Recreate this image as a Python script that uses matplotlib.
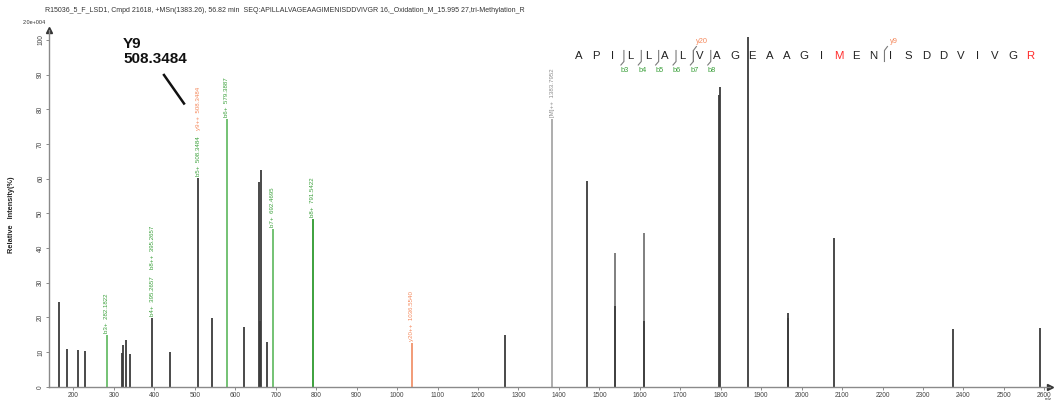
import matplotlib
matplotlib.use('Agg')
import matplotlib.pyplot as plt
from matplotlib.lines import Line2D

W, H = 1056, 400

title = ("R15036_5_F_LSD1, Cmpd 21618, +MSn(1383.26), 56.82 min  "
         "SEQ:APILLALVAGEAAGIMENISDDVIVGR 16,_Oxidation_M_15.995 27,tri-Methylation_R")

# ---- spectrum peaks ----
mz = [165, 183, 211, 228, 282.1822, 320.7, 323.2, 330.6, 340.5, 395.2657,
      439.4, 508.3484, 541.7, 579.3887, 620.8, 657.9, 661.0, 663.6, 677.7,
      692.4695, 791.5422, 1036.5540, 1266.8, 1383.7952, 1468.8, 1537.5,
      1539.0, 1610.0, 1611.5, 1796.0, 1797.5, 1868.2, 1966.0, 1967.5,
      2079.0, 2375.0, 2588.5]
intensity = [24.5, 10.8, 10.6, 10.4, 14.9, 9.8, 12.0, 13.5, 9.4, 19.9,
             9.9, 60.1, 19.9, 77.1, 17.3, 59.0, 19.0, 62.5, 12.8,
             45.4, 48.3, 12.7, 14.9, 77.1, 59.4, 38.5,
             23.4, 44.4, 19.0, 84.0, 86.5, 101.0, 21.3, 19.9,
             42.8, 16.5, 16.8]
ion = ['', '', '', '', 'b', '', '', '', '', '',
       '', '', '', 'b', '', '', '', '', '',
       'b', 'b_dark', 'y', '', 'M', '', 'light',
       '', 'light', '', '', '', '', '', '',
       '', '', '']

# ---- peak annotations ----
label_mz = [282.1822, 395.2657, 395.2657, 508.3484, 508.3484, 579.3887,
            692.4695, 791.5422, 1036.5540, 1383.7952]
label_text = ['b3+  282.1822', 'b4+  395.2657', 'b8++  395.2657',
              'b5+  508.3484', 'y9++  508.3484', 'b6+  579.3887',
              'b7+  692.4695', 'b8+  791.5422', 'y20++  1036.5540',
              '[M]++  1383.7952']
label_ion = ['b', 'b', 'b', 'b', 'y', 'b', 'b', 'b', 'y', 'M']
label_level = [0, 0, 1, 0, 1, 0, 0, 0, 0, 0]

# ---- sequence ----
sequence = "APILLALVAGEAAGIMENISDDVIVGR"
modified_positions = [16, 27]          # 1-based residues in red
b_ions = [3, 4, 5, 6, 7, 8]
y_ions = [20, 9]

callout_text = "Y9\n508.3484"

colors = {'': '#3c3c3c', 'b': '#5cb85c', 'b_dark': '#2e9a2e', 'y': '#f08a60',
          'M': '#a0a0a0', 'light': '#6a6a6a'}
label_colors = {'b': '#3aa03a', 'y': '#f5875a', 'M': '#8c8c8c'}

NARROW = ['Liberation Sans Narrow', 'Liberation Sans', 'DejaVu Sans']
plt.rcParams['font.family'] = ['Liberation Sans', 'DejaVu Sans']

fig = plt.figure(figsize=(W / 100, H / 100), dpi=100)
ax_left, ax_right, ax_bottom, ax_top = 49, 1050, 386.7, 29.6
ax = fig.add_axes([ax_left / W, 1 - ax_bottom / H,
                   (ax_right - ax_left) / W, (ax_bottom - ax_top) / H])

for m, v, k in zip(mz, intensity, ion):
    ax.vlines(m, 0, v, color=colors[k], lw=1.3 if k in ('', 'b_dark') else 1.2)

ax.set_xlim(139.5, 2614)
ax.set_ylim(0, 103)


def base_of(m):
    return intensity[min(range(len(mz)), key=lambda i: abs(mz[i] - m))]


LFS = 4.4
placed = {}
for m, t, k, lev in zip(label_mz, label_text, label_ion, label_level):
    if lev == 0:
        placed[m] = ax.annotate(t, (m, base_of(m)), xytext=(0, 1.5),
                                textcoords='offset points', rotation=90,
                                ha='center', va='bottom', fontsize=LFS,
                                color=label_colors[k], family=NARROW)
fig.canvas.draw()
rend = fig.canvas.get_renderer()
for m, t, k, lev in zip(label_mz, label_text, label_ion, label_level):
    if lev == 1:
        h_px = placed[m].get_window_extent(rend).height
        off = 1.5 + h_px * 72 / fig.dpi + 5
        ax.annotate(t, (m, base_of(m)), xytext=(0, off),
                    textcoords='offset points', rotation=90,
                    ha='center', va='bottom', fontsize=LFS,
                    color=label_colors[k], family=NARROW)

for s in ('top', 'right'):
    ax.spines[s].set_visible(False)
for s in ('left', 'bottom'):
    ax.spines[s].set_color('#8a8a8a')
    ax.spines[s].set_linewidth(1.0)

ax.set_xticks(range(200, 2601, 100))
ax.set_yticks(range(0, 101, 10))
ax.tick_params(axis='both', length=2.5, width=0.7, color='#8a8a8a',
               labelsize=4.8, labelcolor='#444444', pad=1.0)
for lab in ax.get_yticklabels():
    lab.set_rotation(90)
    lab.set_va('center')
    lab.set_family(NARROW)
for lab in ax.get_xticklabels():
    lab.set_family(NARROW)

ax.plot(1, 0, marker='>', color='#333333', ms=4, transform=ax.transAxes, clip_on=False)
ax.plot(0, 1, marker='^', color='#333333', ms=4, transform=ax.transAxes, clip_on=False)


def fx(px):
    return px / W


def fy(py):
    return 1 - py / H


fig.text(fx(45), fy(10), title, fontsize=5.05, color='#333333', va='center',
         ha='left', family=NARROW)
fig.text(fx(12), fy(215), "Relative   Intensity(%)", rotation=90, fontsize=5.3,
         fontweight='bold', ha='center', va='center', color='#222222')
fig.text(fx(34), fy(22), "2.0e+004", fontsize=4.0, ha='center', va='center',
         color='#333333', family=NARROW)
fig.text(fx(1048), fy(399.2), "m/z", fontsize=3.2, ha='center', va='center',
         color='#333333', family=NARROW)

# callout
fig.text(fx(123), fy(37), callout_text, fontsize=11, fontweight='bold',
         ha='left', va='top', linespacing=1.05, color='#111111')
fig.add_artist(Line2D([fx(164), fx(184)], [fy(75), fy(103.5)],
                      transform=fig.transFigure, color='#111111', lw=1.8))

# sequence
x0, step, ys = 578.3, 17.37, 55.7
for i, aa in enumerate(sequence):
    c = '#ff2a2a' if (i + 1) in modified_positions else '#222222'
    fig.text(fx(x0 + i * step), fy(ys), aa, fontsize=8.2, ha='center',
             va='center', color=c)
for n in b_ions:
    bx = x0 + n * step - 6.5
    fig.add_artist(Line2D([fx(bx), fx(bx), fx(bx - 3)],
                          [fy(50.5), fy(61.5), fy(65)],
                          transform=fig.transFigure, color='#7a7a7a', lw=0.8))
    fig.text(fx(bx + 1), fy(70.7), f"b{n}", fontsize=5.3, ha='center',
             va='center', color='#3aa03a')
for n in y_ions:
    k = len(sequence) - n
    bx = x0 + k * step - 6.5
    fig.add_artist(Line2D([fx(bx), fx(bx), fx(bx + 3)],
                          [fy(61.5), fy(50.5), fy(46.5)],
                          transform=fig.transFigure, color='#7a7a7a', lw=0.8))
    fig.text(fx(bx + 9), fy(41.5), f"y{n}", fontsize=5.3, ha='center',
             va='center', color='#f5875a')

fig.savefig('out.png', dpi=100)
